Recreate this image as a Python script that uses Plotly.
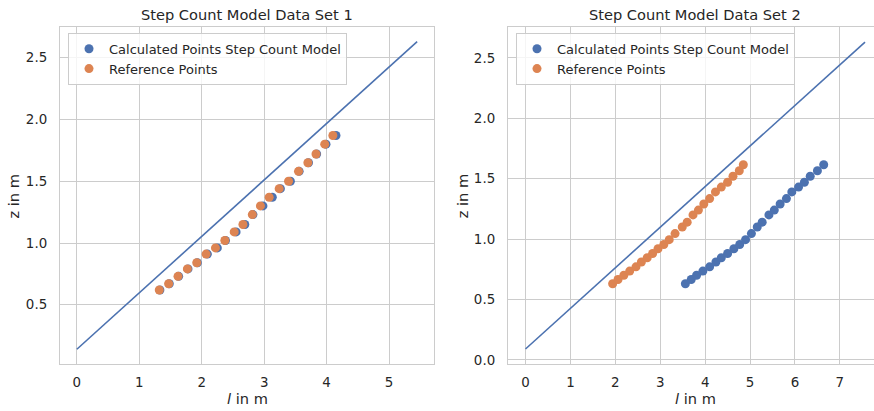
import plotly.graph_objects as go

W, H = 874, 411

# ---- Data set 1 ----
ref1_l = [1.32, 1.47, 1.62, 1.77, 1.92, 2.07, 2.22, 2.37, 2.52, 2.66,
          2.81, 2.94, 3.08, 3.24, 3.39, 3.55, 3.70, 3.83, 3.97, 4.10]
calc1_l = [1.33, 1.48, 1.63, 1.78, 1.93, 2.09, 2.25, 2.38, 2.55, 2.69,
           2.82, 2.98, 3.13, 3.26, 3.42, 3.56, 3.71, 3.84, 3.99, 4.15]
z1 = [0.62, 0.67, 0.73, 0.79, 0.84, 0.91, 0.96, 1.02, 1.09, 1.15,
      1.23, 1.30, 1.37, 1.44, 1.50, 1.58, 1.65, 1.72, 1.80, 1.87]
line1_l = [0.0, 5.45]
line1_z = [0.14, 2.63]

# ---- Data set 2 ----
ref2_l = [1.94, 2.06, 2.19, 2.32, 2.46, 2.58, 2.71, 2.83, 2.95, 3.08, 3.20, 3.33,
          3.49, 3.60, 3.73, 3.85, 3.97, 4.10, 4.23, 4.36, 4.50, 4.62, 4.76, 4.85]
calc2_l = [3.56, 3.69, 3.81, 3.95, 4.10, 4.24, 4.36, 4.50, 4.64, 4.77, 4.90, 5.03,
           5.16, 5.27, 5.42, 5.54, 5.67, 5.81, 5.93, 6.08, 6.21, 6.34, 6.50, 6.64]
z2 = [0.63, 0.665, 0.70, 0.735, 0.77, 0.81, 0.845, 0.88, 0.92, 0.955, 0.995, 1.045,
      1.10, 1.14, 1.20, 1.24, 1.29, 1.335, 1.39, 1.43, 1.47, 1.52, 1.565, 1.615]
line2_l = [0.0, 7.56]
line2_z = [0.09, 2.63]

titles = ["Step Count Model Data Set 1", "Step Count Model Data Set 2"]
legend_names = ["Calculated Points Step Count Model", "Reference Points"]

BLUE = "#4C72B0"
ORANGE = "#DD8452"
GRID = "#CCCCCC"
TXT = "#262626"
FONT = "DejaVu Sans"

fig = go.Figure()

def add_panel(xa, ya, leg, line_l, line_z, calc_l, ref_l, z):
    fig.add_trace(go.Scatter(x=line_l, y=line_z, mode="lines",
                             line=dict(color=BLUE, width=1.6),
                             xaxis=xa, yaxis=ya, showlegend=False, hoverinfo="skip"))
    fig.add_trace(go.Scatter(x=calc_l, y=z, mode="markers", name=legend_names[0],
                             marker=dict(color=BLUE, size=9),
                             xaxis=xa, yaxis=ya, legend=leg))
    fig.add_trace(go.Scatter(x=ref_l, y=z, mode="markers", name=legend_names[1],
                             marker=dict(color=ORANGE, size=9),
                             xaxis=xa, yaxis=ya, legend=leg))

add_panel("x", "y", "legend", line1_l, line1_z, calc1_l, ref1_l, z1)
add_panel("x2", "y2", "legend2", line2_l, line2_z, calc2_l, ref2_l, z2)

ydom = [(H - 367) / H, (H - 27) / H]
axis_common = dict(showgrid=True, gridcolor=GRID, gridwidth=1, zeroline=False,
                   showline=True, linecolor=GRID, linewidth=1.3, ticks="",
                   tickfont=dict(family=FONT, size=13.4, color=TXT))

leg_common = dict(yanchor="top", xanchor="left", y=1 - 33 / H,
                  bgcolor="rgba(255,255,255,0.8)", bordercolor=GRID, borderwidth=1,
                  font=dict(family=FONT, size=13, color=TXT))

fig.update_layout(
    width=W, height=H,
    margin=dict(l=0, r=0, t=0, b=0),
    paper_bgcolor="white", plot_bgcolor="white",
    font=dict(family=FONT, color=TXT),
    xaxis=dict(domain=[60 / W, 434 / W], range=[-0.27, 5.72], dtick=1,
               anchor="y", mirror=True, ticklabelstandoff=5, **axis_common),
    yaxis=dict(domain=ydom, range=[0.018, 2.75], dtick=0.5, tickformat=".1f",
               anchor="x", mirror=True, ticklabelstandoff=9, **axis_common),
    xaxis2=dict(domain=[508 / W, 1.0], range=[-0.39, 7.76], dtick=1,
                anchor="y2", mirror=True, ticklabelstandoff=5, **axis_common),
    yaxis2=dict(domain=ydom, range=[-0.037, 2.757], dtick=0.5, tickformat=".1f",
                anchor="x2", mirror=False, ticklabelstandoff=9, **axis_common),
    legend=dict(x=68 / W, **leg_common),
    legend2=dict(x=516 / W, **leg_common),
)

annotations = []
for cx, t in [((60 + 434) / 2, titles[0]), ((508 + 882) / 2, titles[1])]:
    annotations.append(dict(text=t, x=cx / W, y=1 - 15 / H, xref="paper", yref="paper",
                            xanchor="center", yanchor="middle", showarrow=False,
                            font=dict(family=FONT, size=14.6, color=TXT)))
for cx in [247.7, 695]:
    annotations.append(dict(text="<i>l</i> in m", x=cx / W, y=0, borderpad=0,
                            xref="paper", yref="paper", xanchor="center", yanchor="bottom",
                            showarrow=False, font=dict(family=FONT, size=14.6, color=TXT)))
for cx in [14, 462.7]:
    annotations.append(dict(text="z in m", x=cx / W, y=1 - 198 / H, xref="paper",
                            yref="paper", xanchor="center", yanchor="middle",
                            textangle=-90, showarrow=False,
                            font=dict(family=FONT, size=14.6, color=TXT)))
fig.update_layout(annotations=annotations)

fig.write_html("out.html", config={"displayModeBar": False},
               post_script="document.body.style.margin='0';")
